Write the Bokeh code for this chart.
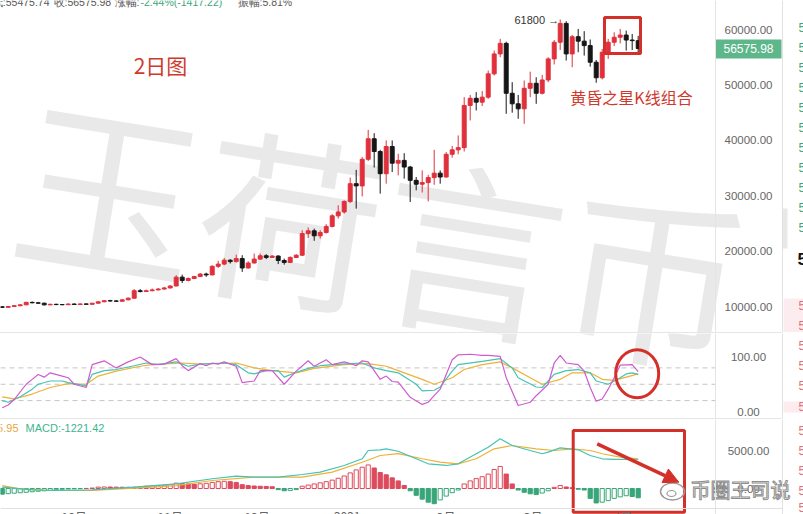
from bokeh.plotting import figure
from bokeh.layouts import column
from bokeh.models import Range1d, Span, Arrow, NormalHead, Div
from bokeh.core.properties import value
from bokeh.embed import file_html
from bokeh.resources import INLINE

# ---------------- data (2-day candles) ----------------
opens = [10000, 9900, 10050, 10200, 10350, 10800, 10720, 10650, 10350, 10450,
         10400, 10380, 10500, 10420, 10520, 10450, 10650, 10900, 11100, 11050,
         11000, 11250, 11550, 12900, 12750, 12900, 13050, 13200, 13400, 13750,
         15350, 14750, 15100, 15450, 15900, 15750, 17300, 17700, 18400, 18150,
         18700, 17000, 17900, 18600, 19200, 18900, 19150, 18350, 18000, 18900,
         19300, 23200, 23700, 22800, 23400, 24500, 26400, 27100, 29000, 32200,
         31800, 36600, 40300, 38000, 34000, 38900, 35900, 36400, 35200, 32800,
         32100, 32400, 33300, 34100, 33400, 37500, 38300, 38700, 46300, 47600,
         46900, 47800, 52000, 55600, 57500, 48500, 46600, 45700, 49400, 50300,
         48500, 50900, 54700, 57700, 61100, 55600, 58700, 57900, 57100, 54100,
         51300, 55900, 57700, 58600, 59000, 58100, 57993.2]
closes = [9900, 10050, 10200, 10350, 10800, 10720, 10650, 10350, 10450, 10400,
          10380, 10500, 10420, 10520, 10450, 10650, 10900, 11100, 11050, 11000,
          11250, 11550, 12900, 12750, 12900, 13050, 13200, 13400, 13750, 15350,
          14750, 15100, 15450, 15900, 15750, 17300, 17700, 18400, 18150, 18700,
          17000, 17900, 18600, 19200, 18900, 19150, 18350, 18000, 18900, 19300,
          23200, 23700, 22800, 23400, 24500, 26400, 27100, 29000, 32200, 31800,
          36600, 40300, 38000, 34000, 38900, 35900, 36400, 35200, 32800, 32100,
          32400, 33300, 34100, 33400, 37500, 38300, 38700, 46300, 47600, 46900,
          47800, 52000, 55600, 57500, 48500, 46600, 45700, 49400, 50300, 48500,
          50900, 54700, 57700, 61100, 55600, 58700, 57900, 57100, 54100, 51300,
          55900, 57700, 58600, 59000, 58100, 57993.2, 56575.98]
highs = [10100, 10150, 10300, 10450, 10900, 10950, 10850, 10750, 10550, 10550,
         10500, 10600, 10600, 10600, 10600, 10700, 11000, 11200, 11250, 11200,
         11350, 11700, 13200, 13200, 13100, 13300, 13400, 13600, 13900, 15700,
         15800, 15300, 15600, 16100, 16150, 17500, 18300, 18800, 18600, 19400,
         19300, 18200, 19600, 19600, 19500, 19300, 19300, 18700, 19100, 19500,
         23800, 24300, 24100, 23800, 24900, 26700, 28300, 29200, 33300, 34700,
         37000, 41900, 41300, 38300, 40000, 40000, 37600, 37700, 35400, 33400,
         34600, 33800, 38300, 34600, 37900, 39000, 40900, 47800, 48200, 48700,
         48900, 52600, 56200, 58300, 57800, 50500, 48200, 50800, 52400, 51400,
         51800, 55000, 58100, 61800, 61500, 59000, 60100, 59700, 58200, 54500,
         56500, 58300, 59500, 60100, 59800, 59200, 58845]
lows = [9800, 9850, 10000, 10100, 10300, 10650, 10550, 10250, 10300, 10300,
        10300, 10330, 10350, 10380, 10380, 10400, 10600, 10850, 10950, 10900,
        10950, 11200, 11500, 12600, 12700, 12800, 12950, 13100, 13300, 13700,
        14300, 14600, 15000, 15400, 15400, 15700, 17000, 17500, 17800, 18000,
        16300, 16900, 17800, 18500, 18600, 18800, 17700, 17600, 17900, 18800,
        19200, 22400, 21900, 22300, 23200, 24300, 25900, 26800, 28700, 27700,
        29900, 36300, 35100, 30400, 32200, 34300, 33700, 33100, 28900, 31000,
        30600, 29000, 32000, 32200, 33300, 36900, 37500, 38000, 43600, 45400,
        46200, 47500, 51700, 55000, 44800, 45000, 43900, 43000, 47800, 46600,
        48300, 50500, 53700, 56300, 54400, 53200, 55900, 55300, 53300, 50400,
        51000, 54700, 57000, 57500, 56200, 56300, 55475.74]

# KDJ vertices (candle index, value)
K_idx = [0, 1, 3, 5, 6, 8, 10, 11, 14, 15, 17, 19, 22, 24, 26, 29, 31, 33, 37, 39,
         41, 42, 44, 46, 47, 49, 51, 53, 55, 58, 60, 62, 64, 66, 69, 70, 72, 73, 75, 76,
         80, 83, 85, 86, 89, 90, 92, 94, 96, 98, 99, 101, 103, 104, 105, 106]
K_val = [20, 17, 27, 41, 50, 56, 56, 53, 47, 68, 75, 77, 84, 89, 86, 91, 83, 87, 89, 86,
         71, 69, 75, 75, 63, 72, 79, 84, 86, 88, 89, 80, 75, 71, 50, 38, 39, 45, 74, 86,
         92, 97, 80, 62, 45, 44, 68, 75, 77, 71, 56, 50, 62, 69, 71, 68]
D_idx = [0, 2, 5, 8, 11, 14, 16, 19, 23, 25, 30, 33, 39, 42, 45, 49, 52, 57, 61, 64,
         66, 70, 72, 75, 77, 80, 83, 85, 88, 90, 93, 95, 98, 100, 102, 104, 106]
D_val = [27, 23, 32, 44, 51, 50, 65, 74, 83, 86, 89, 87, 89, 80, 75, 71, 79, 86, 88, 83,
         75, 59, 50, 62, 77, 86, 91, 80, 62, 50, 59, 71, 71, 59, 57, 63, 69]
J_idx = [0, 1, 2, 4, 5, 6, 7, 8, 10, 11, 12, 14, 15, 17, 19, 21, 23, 25, 27, 29,
         30, 31, 33, 34, 35, 36, 37, 39, 40, 42, 43, 45, 47, 49, 51, 52, 54, 55, 57, 58,
         59, 60, 61, 63, 64, 65, 66, 68, 70, 71, 72, 73, 75, 76, 78, 80, 81, 83, 84, 86,
         88, 89, 91, 92, 93, 94, 96, 97, 98, 99, 100, 101, 102, 103, 105, 106]
J_val = [7, 12, 22, 50, 59, 68, 63, 71, 65, 62, 50, 44, 86, 93, 80, 91, 100, 86, 87, 97,
         84, 75, 88, 84, 89, 87, 91, 83, 53, 56, 75, 75, 50, 74, 93, 83, 95, 86, 91, 88,
         84, 93, 91, 59, 65, 55, 54, 26, 13, 17, 29, 41, 95, 104, 105, 103, 103, 101, 62, 11,
         17, 29, 50, 89, 103, 89, 86, 74, 44, 19, 23, 41, 62, 85, 86, 73]

# MACD
DIF_idx = [0, 5, 8, 15, 22, 29, 35, 39, 42, 46, 50, 53, 57, 60, 61, 63, 64, 66, 69, 71,
           74, 76, 79, 81, 83, 85, 88, 90, 91, 93, 95, 96, 98, 100, 102, 104, 106]
DIF_val = [170, -170, -260, -170, 170, 620, 1280, 1620, 1490, 1490, 1840, 2150, 3030, 3910,
           5000, 5090, 5220, 4900, 3910, 3250, 3030, 3250, 4570, 5430, 6540, 5660, 5000,
           4570, 4780, 5350, 5180, 5090, 4340, 3910, 3820, 3820, 3780]
DEA_idx = [0, 3, 8, 15, 22, 29, 35, 42, 46, 50, 55, 60, 63, 66, 70, 73, 76, 79, 82, 85,
           89, 92, 95, 98, 100, 103, 106]
DEA_val = [390, -40, -260, -260, 40, 390, 1050, 1490, 1490, 1490, 2150, 3460, 4340, 4600,
           3910, 3460, 3250, 3910, 5220, 5660, 5220, 5000, 5220, 5000, 4570, 4120, 3910]
hist = [-750, -680, -620, -560, -500, -430, -360, -300, -230, -160,
        -110, -70, -40, -20, 10, 60, 180, 200, 190, 180,
        170, 160, 170, 250, 300, 350, 400, 450, 500, 700,
        650, 600, 560, 620, 680, 800, 900, 950, 900, 800,
        500, 380, 330, 300, 270, 230, -150, -300, -250, -150,
        300, 450, 600, 750, 900, 1100, 1350, 1650, 2050, 2450,
        2800, 3100, 2700, 2100, 1800, 1400, 1000, 400, -300, -900,
        -1400, -1800, -2000, -1500, -1000, -550, -200, 600, 1000, 1300,
        1550, 1900, 2500, 2900, 1900, 600, -200, -500, -700, -800,
        -600, -300, 150, 400, 200, 100, -100, -200, -1300, -1900,
        -1800, -1600, -1300, -1100, -950, -1050, -1221.42]

price_ticks = [10000, 20000, 30000, 40000, 50000, 60000]
kdj_ticks = [0, 100]
kdj_levels = [20, 50, 80]
macd_ticks = [0, 5000]
month_idx = [12, 28, 42.5, 57.5, 74, 88.5, 103.5]
month_labels = ["10月", "11月", "12月", "2021", "2月", "3月", "4月"]

# ---------------- styling / geometry ----------------
RED = "#e0303b"
BLACK = "#161616"
ANN = "#d4302a"
TEAL = "#45c3b3"
YEL = "#efb136"
MAG = "#cf5ccf"
HRED = "#dc4a5c"
HGRN = "#38a678"
AXC = "#666666"
FONT = "Liberation Sans"
CJK = "Noto Sans CJK SC"
W = 803


def data_x(rx):
    return (rx - 1.7) / 6.0


def main_y(ry):
    return 60000 - (ry - 29) / 0.005546


def kdj_y(ry):
    return (411 - ry) / 0.545


def macd_y(ry):
    return (488 - ry) / 0.0076


xr = Range1d(data_x(0), data_x(W))
LABEL_X = data_x(748)


def make_fig(h, y0, y1):
    p = figure(width=W, height=h, x_range=xr, y_range=Range1d(y0, y1),
               output_backend="svg", toolbar_location=None,
               x_axis_location=None, y_axis_location=None,
               min_border_left=0, min_border_right=0, min_border_top=0,
               min_border_bottom=0, outline_line_color=None,
               background_fill_color="white", border_fill_color="white")
    p.xgrid.visible = False
    p.ygrid.visible = False
    p.add_layout(Span(location=data_x(715), dimension="height",
                      line_color="#e4e4e4", line_width=1))
    p.add_layout(Span(location=data_x(782), dimension="height",
                      line_color="#e2e2e2", line_width=1))
    return p


def tick_labels(p, ticks):
    p.text(x=[LABEL_X] * len(ticks), y=ticks, text=[f"{t:.2f}" for t in ticks],
           text_font=value(FONT), text_font_size=value("11.5px"), text_color=AXC,
           text_align="center", text_baseline="middle")


def watermark(p, yfun):
    p.text(x=[data_x(382)], y=[yfun(227)], text=["玉荷言币"], angle=-0.16,
           text_font=value(CJK), text_font_size=value("184px"),
           text_color="#e9e9e9", text_align="center", text_baseline="middle")


def side_rows(p, yfun, rows, color):
    p.text(x=[data_x(798)] * len(rows), y=[yfun(r) for r in rows], text=["5"] * len(rows),
           text_font=value(FONT), text_font_size=value("12px"), text_color=color,
           text_align="left", text_baseline="middle")


# ---------------- main price panel ----------------
p1 = make_fig(332, main_y(332), main_y(0))
watermark(p1, main_y)

idx = list(range(len(opens)))
colors = [RED if c >= o else BLACK for o, c in zip(opens, closes)]
tops = [max(o, c) for o, c in zip(opens, closes)]
bots = [min(o, c) for o, c in zip(opens, closes)]
p1.segment(x0=idx, y0=lows, x1=idx, y1=highs, line_color=colors, line_width=1)
p1.vbar(x=idx, width=0.66, top=tops, bottom=bots, fill_color=colors,
        line_color=colors, line_width=1)

tick_labels(p1, price_ticks)

# header (only its lower part is visible in the screenshot)
hy = main_y(1.5)
HFS = value("10.5px")
p1.text(x=[data_x(49)], y=[hy], text=[f"低:{lows[-1]:.2f}"], text_font=value(FONT),
        text_font_size=HFS, text_color="#555555", text_align="right",
        text_baseline="middle")
p1.text(x=[data_x(53), data_x(114), data_x(237)], y=[hy, hy, hy],
        text=[f"收:{closes[-1]:.2f}", "涨幅:", "振幅:5.81%"], text_font=value(FONT),
        text_font_size=HFS, text_color="#555555", text_align="left",
        text_baseline="middle")
p1.text(x=[data_x(140)], y=[hy], text=["-2.44%(-1417.22)"], text_font=value(FONT),
        text_font_size=HFS, text_color="#3aa57a", text_align="left",
        text_baseline="middle")

p1.text(x=[data_x(160)], y=[main_y(64)], text=["2日图"], text_font=value(CJK),
        text_font_size=value("21px"), text_color="#cf3a2e",
        text_align="center", text_baseline="middle")
p1.text(x=[data_x(631)], y=[main_y(96)], text=["黄昏之星K线组合"], text_font=value(CJK),
        text_font_size=value("16px"), text_color="#cf3a2e",
        text_align="center", text_baseline="middle")
p1.text(x=[data_x(514)], y=[main_y(19)], text=["61800 →"], text_font=value(FONT),
        text_font_size=value("11px"), text_color="#333333",
        text_align="left", text_baseline="middle")
p1.quad(left=[data_x(604)], right=[data_x(640)], top=[main_y(17)], bottom=[main_y(53)],
        fill_color=None, line_color=ANN, line_width=3)

# last-price tag
p1.quad(left=[data_x(715)], right=[data_x(781)], top=[main_y(39)], bottom=[main_y(58)],
        fill_color="#5db78b", line_color=None)
p1.text(x=[LABEL_X], y=[closes[-1]], text=[f"{closes[-1]:.2f}"], text_font=value(FONT),
        text_font_size=value("12px"), text_color="white",
        text_align="center", text_baseline="middle")

# right side panel fragments
p1.quad(left=[data_x(782)], right=[data_x(787)], top=[main_y(208)], bottom=[main_y(248)],
        fill_color="#e8e8e8", line_color=None)
p1.quad(left=[data_x(783)], right=[data_x(803)], top=[main_y(298)], bottom=[main_y(332)],
        fill_color="#fcecef", line_color=None)
side_rows(p1, main_y, list(range(27, 240, 20)), "#3aa87a")
p1.text(x=[data_x(797)], y=[main_y(258)], text=["5"], text_font=value(FONT),
        text_font_size=value("17px"), text_font_style="bold", text_color="#111111",
        text_align="left", text_baseline="middle")
side_rows(p1, main_y, [305, 325], "#e0707e")

# ---------------- KDJ panel ----------------
p2 = make_fig(85, kdj_y(418), kdj_y(333))
watermark(p2, kdj_y)
p2.segment(x0=[data_x(0)] * 3, y0=kdj_levels, x1=[data_x(715)] * 3, y1=kdj_levels,
           line_color="#c4c4c4", line_dash="5 4", line_width=1)
p2.line(D_idx, D_val, line_color=YEL, line_width=1.2)
p2.line(K_idx, K_val, line_color=TEAL, line_width=1.2)
p2.line(J_idx, J_val, line_color=MAG, line_width=1.2)
p2.ellipse(x=[data_x(636.7)], y=[kdj_y(373.3)], width=43, height=48,
           width_units="screen", height_units="screen",
           fill_color=None, line_color=ANN, line_width=3)
tick_labels(p2, kdj_ticks)
p2.quad(left=[data_x(783)], right=[data_x(803)], top=[kdj_y(401)], bottom=[kdj_y(412)],
        fill_color="#fcecef", line_color=None)
side_rows(p2, kdj_y, [345, 365, 385, 406], "#e0707e")

# ---------------- MACD panel ----------------
p3 = make_fig(95, macd_y(514), macd_y(419))
hist_top = [max(v, 0) for v in hist]
hist_bot = [min(v, 0) for v in hist]
hcol = [HRED if v >= 0 else HGRN for v in hist]
hfill = []
for k, v in enumerate(hist):
    prev = hist[k - 1] if k > 0 else v
    hfill.append("white" if v > prev else hcol[k])
p3.vbar(x=idx, width=0.7, top=hist_top, bottom=hist_bot, fill_color=hfill,
        line_color=hcol, line_width=1)
p3.line(DEA_idx, DEA_val, line_color=YEL, line_width=1.2)
p3.line(DIF_idx, DIF_val, line_color=TEAL, line_width=1.2)
tick_labels(p3, macd_ticks)

p3.text(x=[data_x(18)], y=[macd_y(427)], text=["5.95"], text_font=value(FONT),
        text_font_size=value("11px"), text_color="#e5a53c",
        text_align="right", text_baseline="middle")
p3.text(x=[data_x(25)], y=[macd_y(427)], text=["MACD:-1221.42"], text_font=value(FONT),
        text_font_size=value("11px"), text_color="#3fb48f",
        text_align="left", text_baseline="middle")
p3.quad(left=[data_x(572.7)], right=[data_x(684)], top=[macd_y(430)],
        bottom=[macd_y(511.7)], fill_color=None, line_color=ANN, line_width=3)
p3.add_layout(Arrow(end=NormalHead(size=15, fill_color=ANN, line_color=ANN),
                    x_start=data_x(596.7), y_start=macd_y(443.3),
                    x_end=data_x(678.3), y_end=macd_y(481.7),
                    line_color=ANN, line_width=3.5))
# bottom time axis line and month labels (only their tops are visible)
p3.segment(x0=[data_x(0)], y0=[macd_y(508)], x1=[data_x(782)], y1=[macd_y(508)],
           line_color="#e0e0e0", line_width=1)
p3.text(x=month_idx, y=[macd_y(516)] * len(month_idx), text=month_labels,
        text_font=value(CJK), text_font_size=value("12px"), text_color=AXC,
        text_align="center", text_baseline="middle")
# weibo watermark
p3.ellipse(x=[data_x(672)], y=[macd_y(491)], width=24, height=17,
           width_units="screen", height_units="screen",
           fill_color=None, line_color="#9a9a9a", line_width=1.5)
p3.ellipse(x=[data_x(671)], y=[macd_y(493)], width=9, height=6,
           width_units="screen", height_units="screen",
           fill_color=None, line_color="#9a9a9a", line_width=1.2)
p3.text(x=[data_x(690)], y=[macd_y(489)], text=["币圈王司说"], text_font=value(CJK),
        text_font_size=value("20px"), text_color="white",
        text_outline_color="#8e8e8e", text_align="left", text_baseline="middle")
side_rows(p3, macd_y, [430, 450, 470, 490, 507], "#e0707e")

# ---------------- separators ----------------
sep_style = {"background": "linear-gradient(to right, #e6e6e6 0px, #e6e6e6 782px, #ffffff 782px)"}
sep1 = Div(width=W, height=1, margin=(0, 0, 0, 0), styles=sep_style)
sep2 = Div(width=W, height=1, margin=(0, 0, 0, 0), styles=sep_style)

layout = column(p1, sep1, p2, sep2, p3)

open("out.html", "w").write(file_html(layout, INLINE))
